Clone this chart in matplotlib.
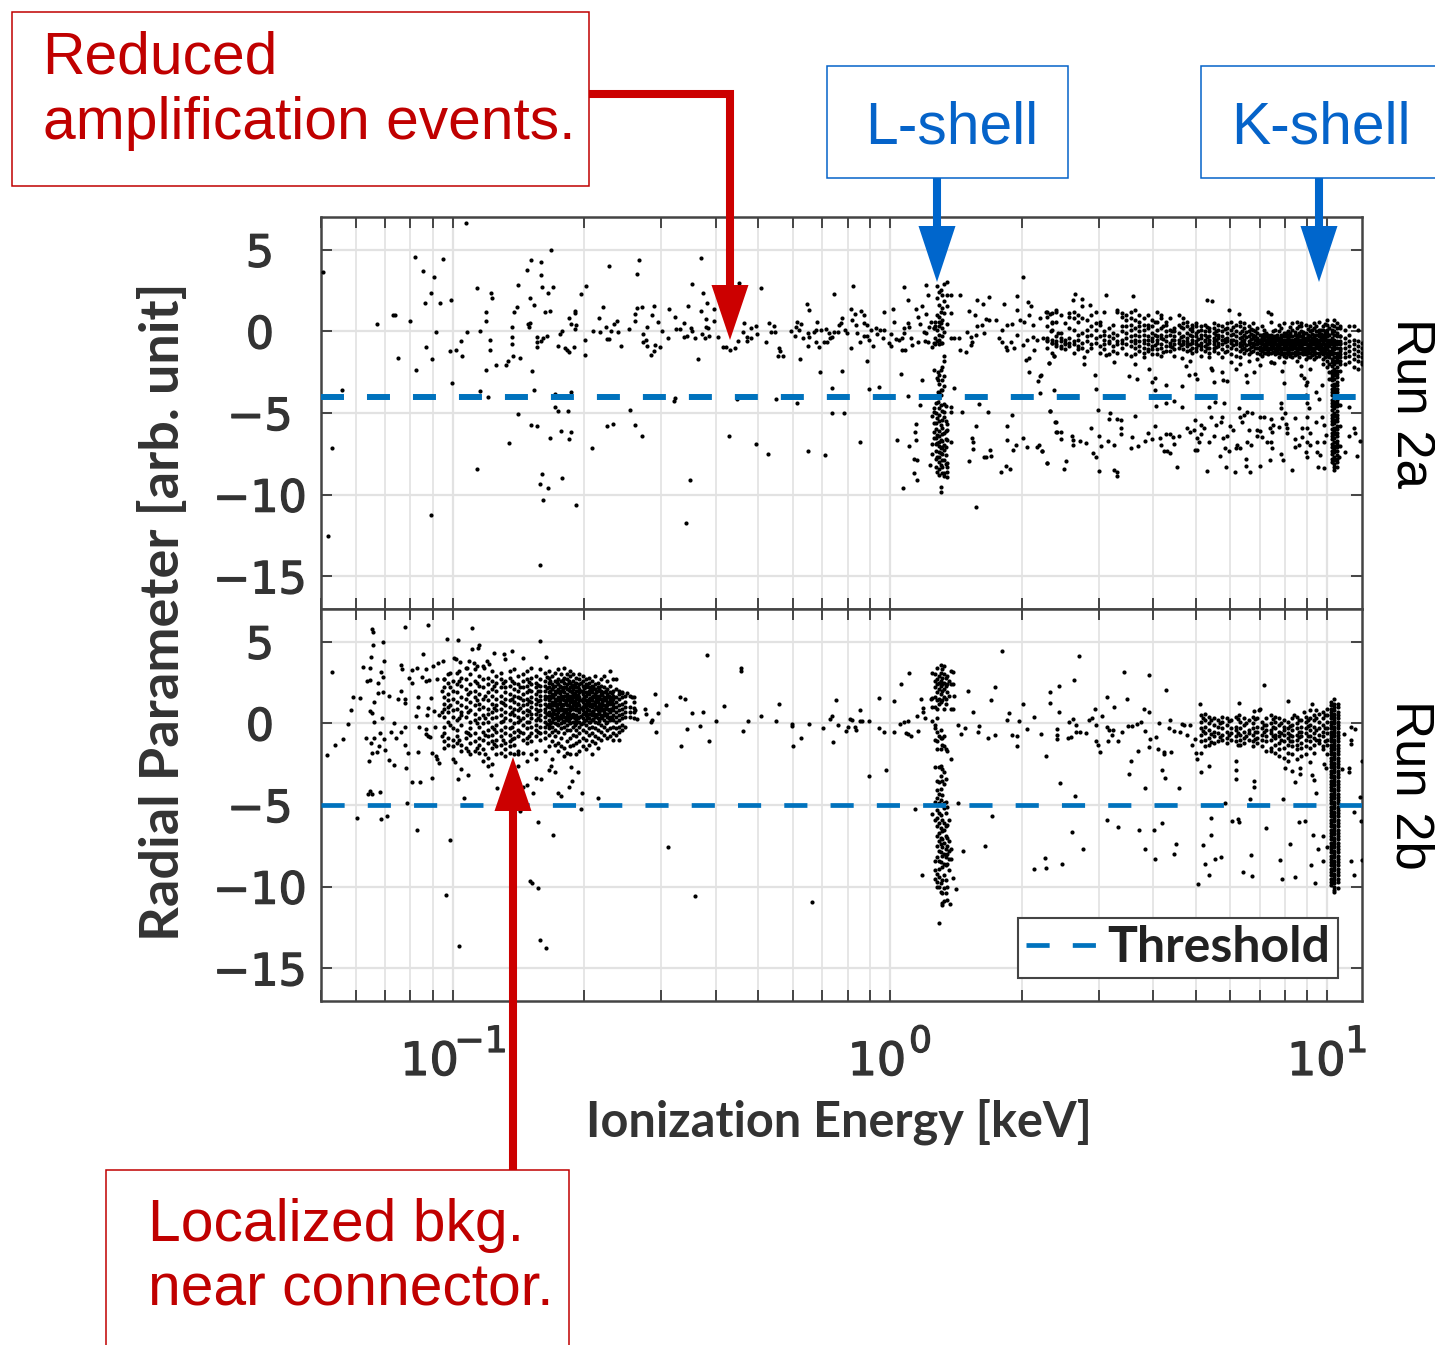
import matplotlib
matplotlib.use("Agg")
import matplotlib.pyplot as plt
import matplotlib.patheffects as pe
import numpy as np
from matplotlib.patches import Polygon, Rectangle

# every point is (log10 of energy in keV, radial parameter)
run2a_low = [(-1.296,3.61),(-.970,6.63),(-.776,4.98),(-1.086,4.53),(-1.022,4.41),(-.820,4.39),(-.797,4.22),(-.432,4.47),(-.574,4.37),(-.643,4.0),
(-.829,3.76),(-1.068,3.67),(-1.042,3.35),(-.797,3.45),(-.578,3.49),(-.944,2.67),(-.851,2.82),(-.694,2.8),(-.795,2.71),(-.771,2.69),
(-.453,2.9),(-1.050,2.35),(-.913,2.37),(-.782,2.37),(-.707,2.29),(-.427,2.37),(-.823,2.06),(-.909,2.06),(-1.003,1.9),(-1.064,1.76),
(-1.028,1.73),(-.814,1.59),(-.854,1.49),(-.656,1.51),(-.578,1.43),(-.566,1.51),(-.540,1.53),(-.463,1.53),(-.418,1.73),(-.505,1.35),
(-.859,1.18),(-.923,1.18),(-.790,1.2),(-.778,1.24),(-.720,1.27),(-.720,1.14),(-.432,1.27),(-.403,1.37),(-1.136,.98),(-1.131,.98),
(-.734,.82),(-.666,.82),(-.583,1.04),(-.544,.98),(-.492,.9),(-.420,.76),(-.923,.65),(-1.097,.63),(-1.172,.45),(-.823,.53),
(-.828,.47),(-.826,.29),(-.864,.27),(-.730,.43),(-.717,.39),(-.721,.14),(-.624,.65),(-.631,.45),(-.650,.29),(-.583,.63),
(-.530,.57),(-.470,.53),(-.403,.61),(-.555,.27),(-.420,.24),(-.456,.18),(-1.039,-.04),(-.967,-.04),(-.938,.04),(-.750,.02),
(-.679,.04),(-.663,-.02),(-.637,.04),(-.622,-.04),(-.596,.16),(-.522,.02),(-.489,.12),(-.480,.14),(-.416,.18),(-.755,-.18),
(-.865,-.33),(-.807,-.35),(-.785,-.29),(-.793,-.43),(-.565,-.14),(-.429,-.16),(-.452,.02),(-.471,-.35),(-.464,-.31),(-.447,-.43),
(-.424,-.43),(-.415,-.27),(-.394,-.37),(-.508,-.43),(-.915,-.51),(-.980,-.57),(-.697,-.53),(-.648,-.49),(-.643,-.45),(-.807,-.65),
(-.797,-.59),(-.559,-.53),(-.564,-.63),(-.865,-.8),(-1.060,-.96),(-.759,-.9),(-.807,-.98),(-.723,-.98),(-.742,-1.04),(-.615,-.92),
(-.555,-.9),(-.526,-.94),(-.538,-.86),(-1.006,-1.2),(-.993,-1.12),(-.914,-1.12),(-.738,-1.14),(-.734,-1.24),(-.539,-1.2),(-.547,-1.45),
(-.697,-1.47),(-.978,-1.51),(-.862,-1.53),(-1.124,-1.63),(-1.048,-1.69),(-.845,-1.63),(-.440,-1.67),(-.874,-1.82),(-.877,-2.06),(-.901,-2.06),
(-1.084,-2.37),(-.924,-2.39),(-.819,-2.45),(-1.002,-3.14),(-1.253,-3.59),(-.937,-3.67),(-.813,-3.59),(-.730,-3.69),(-.919,-4.0),(-.765,-3.84),
(-.491,-4.08),(-.494,-4.29),(-.766,-4.63),(-.758,-4.88),(-.737,-4.86),(-.595,-4.82),(-.851,-5.08),(-.821,-5.73),(-.808,-5.78),(-.646,-5.78),
(-.633,-5.65),(-.583,-5.71),(-.752,-6.12),(-.730,-6.18),(-.566,-6.39),(-.778,-6.55),(-.734,-6.61),(-.871,-6.86),(-1.275,-7.12),(-.682,-7.12),
(-.945,-8.43),(-.796,-8.71),(-.749,-8.96),(-.458,-9.1),(-.800,-9.35),(-.781,-9.57),(-.793,-10.33),(-.718,-10.61),(-1.050,-11.27),(-.467,-11.76),
(-1.286,-12.55),(-.801,-14.33)]

run2a_mid = [(-.383,-.94),(-.376,-.98),(-.366,-1.14),(-.355,-1.0),(-.345,2.94),(-.296,2.63),(-.334,.49),(-.307,.33),(-.318,.18),(-.337,-.06),
(-.305,-.18),(-.326,-.33),(-.318,-.39),(-.347,-.59),(-.326,-.59),(-.284,-.67),(-.276,.49),(-.265,.35),(-.273,-.06),(-.264,-.02),
(-.254,-1.0),(-.251,-1.2),(-.257,-1.51),(-.244,-1.51),(-.206,-1.67),(-.227,.04),(-.213,.55),(-.204,.47),(-.215,.29),(-.208,.08),
(-.218,-.27),(-.200,-.43),(-.187,-.12),(-.185,-.33),(-.174,-.02),(-.170,.08),(-.190,1.67),(-.185,1.29),(-.167,.59),(-.187,-.88),
(-.170,-.63),(-.162,-.98),(-.151,-.67),(-.143,-.63),(-.157,.08),(-.147,.12),(-.139,-.12),(-.128,-.02),(-.132,-.33),(-.119,-.06),
(-.137,-.43),(-.128,2.27),(-.084,2.76),(-.110,.84),(-.116,.39),(-.113,.49),(-.103,.08),(-.099,-.12),(-.090,1.35),(-.081,1.08),
(-.086,.69),(-.078,.39),(-.067,1.27),(-.059,1.0),(-.090,-1.0),(-.076,-.12),(-.068,-.63),(-.059,.49),(-.052,.39),(-.059,-.27),
(-.053,-.27),(-.044,.08),(-.048,-.53),(-.040,-.88),(-.033,.18),(-.029,-.18),(-.023,.08),(-.014,.08),(-.017,-.43),(-.014,1.2),
(.006,1.37),(.008,.59),(-.002,-.73),(.003,-.88),(.003,-.18),(.013,-.47),(.021,-.53),(.031,.18),(.032,-.12),(.040,.49),
(.044,.29),(.028,-.43),(.047,-.39),(.032,2.73),(.041,1.9),(.059,1.35),(.074,1.53),(.064,.86),(.082,1.04),(.086,2.22),
(.082,2.84),(.068,.45),(.078,-.02),(.082,-.12),(.093,.59),(.089,.29),(.101,.18),(.051,-.84),(.063,-.67),(.028,-1.14),
(.034,-1.12),(.079,-.59),(.086,-.63),(.097,-.94),(.101,-.73),
(.147,-.43),(.158,-.43),(.147,-3.45),(.160,2.22),(.181,1.27),(.194,1.0),(.198,1.92),(.213,1.67),(.227,2.08),(.219,.76),
(.227,.69),(.200,.33),(.211,.39),(.215,-.12),(.177,-.02),(.185,-.33),(.196,-.22),(.188,-.63),(.185,-.84),(.160,-1.16),
(.173,-1.27),(.242,.69),(.261,1.67),(.291,2.16),(.290,1.31),(.257,.08),(.268,.39),(.280,.43),(.249,-.39),(.257,-.63),
(.265,-.94),(.268,-1.14),(.276,-.63),(.284,-1.04),(.291,-.22),(.297,.69),(.307,.59),(.318,1.0),(.326,.39),(.343,.8),
(.316,1.78),(.323,1.55),(.305,3.35),(.357,1.2),(.366,1.06),(.371,.59),(.368,.02),(.303,-.84),(.314,-.53),(.326,-.33),
(.337,-.53),(.349,-.43),(.360,-.53),(.371,-.73),(.383,-.12),(.379,1.2),(.329,-1.14),(.310,-1.76),(.318,-1.61),(.375,-1.51),(.364,-1.96),
(.025,-2.59),(.073,-2.98),(.041,-3.96),(.068,-4.53),(.059,-5.69),(.056,-6.18),(.060,-6.63),(.017,-6.65),(.044,-7.04),(.055,-7.82),
(.061,-7.88),(.091,-8.18),(.054,-8.65),(.061,-9.1),(.029,-9.57),(-.261,-4.16),(-.212,-4.41),(-.349,-4.16),(-.133,-3.45),(-.049,-3.51),
(-.026,-3.39),(-.132,-5.0),(-.106,-5.0),(-.069,-6.76),(-.368,-6.41),(-.307,-6.9),(-.280,-7.51),(-.188,-7.33),(-.149,-7.55),(-.161,-2.47),
(-.110,-2.41),(-.052,-1.84),(.165,-4.94),(.204,-4.47),(.224,-4.94),(.196,-5.78),(.188,-6.55),(.190,-6.8),(.189,-7.22),(.181,-7.94),
(.229,-7.27),(.230,-7.63),(.219,-7.71),(.214,-7.71),(.278,-5.14),(.267,-5.78),(.267,-6.67),(.288,-6.96),(.282,-7.27),(.305,-6.51),
(.314,-7.06),(.337,-7.1),(.341,-6.96),(.347,-7.33),(.359,-8.04),(.265,-8.22),(.275,-8.43),(.253,-8.61),(.197,-10.76),(.317,-2.51),
(.338,-3.06),(.346,-2.69),(.343,-3.8),(.375,-3.59),(.366,-4.88),(.379,-5.57),(.381,-6.18)]

run2a_lshell = [
    (.095, [-5.2,-6.9,-7.5]),
    (.101, [.18,-4.67,-4.92,-5.63,-6.14,-6.55,-2.35]),
    (.104, [.6,.3,-.4,-.8]),
    (.105, [-4.4,-5.0,-5.6,-6.0,-6.5,-6.9,-7.3,-7.8,-8.3]),
    (.108, [2.78,2.02,1.0,-.59,-2.88,-6.35,-6.86,-7.67,-8.59,-5.33,.08]),
    (.109, [-2.5,-3.0,-3.7,-4.3]),
    (.112, [2.4,1.6,.9,.6,.3,-.2,-.5,-.8,-4.7,-5.1,-5.5,-6.1,-6.4,-6.8,-7.0,-7.4,-7.7,-8.0,-8.4,-8.8]),
    (.113, [-2.7,-3.2,-3.8,-4.1]),
    (.116, [2.53,1.2,.49,-.69,-2.39,-3.59,-3.9,-4.51,-5.73,-7.16,-8.18,-6.65,-7.47,-9.51,-9.82]),
    (.118, [-3.0,-3.6,-2.2]),
    (.120, [2.2,1.4,.7,.2,-.3,-.7,-4.9,-5.4,-5.9,-6.3,-6.7,-7.1,-7.5,-7.9,-8.3,-8.7]),
    (.124, [2.9,1.86,1.1,-.02,-1.49,-1.8,-2.73,-3.33,-4.45,-4.92,-5.22,-6.24,-6.96,-7.27,-7.88,-8.69,-8.86]),
    (.127, [-4.6,-5.5,-6.1,-6.6,-7.1,-7.6,-8.1]),
    (.131, [3.0,2.22,1.57,.47,-5.69,-6.04,-6.65,-8.08,-8.29,-8.59,-8.9]),
    (.139, [2.22,1.1,-.43,-4.61,-4.92,-6.8]),
]

run2a_high = [(.365,-4.88),(.378,-5.53),(.380,-6.16),(.391,-6.14),(.392,-6.61),(.415,-6.39),(.418,-6.65),(.418,-6.96),(.434,-6.71),(.447,-6.84),
(.460,-5.94),(.477,-6.39),(.476,-4.82),(.470,-3.53),(.468,-2.65),(.504,-4.98),(.500,-5.39),(.519,-5.37),(.527,-5.41),(.527,-5.94),
(.529,-6.29),(.499,-6.69),(.482,-7.04),(.511,-6.98),(.464,-7.43),(.470,-7.69),(.478,-8.57),(.513,-8.49),(.518,-8.63),(.519,-8.84),
(.358,-8.04),(.397,-8.43),(.403,-7.92),(.348,-7.33),(.554,-6.49),(.551,-7.12),(.567,-7.02),(.560,-5.16),(.546,-2.71),(.565,-2.92),
(.598,-3.08),(.607,-2.84),(.607,-3.59),(.632,-3.29),(.632,-4.39),(.649,-4.24),(.609,-4.59),(.668,-4.61),(.668,-3.33),(.605,-5.78),
(.589,-6.2),(.582,-6.71),(.598,-6.59),(.617,-6.55),(.620,-6.96),(.632,-6.29),(.640,-6.29),(.647,-6.45),(.660,-6.39),(.650,-6.88),
(.626,-7.31),(.634,-7.33),(.641,-7.47),(.656,-8.29),(.679,-5.94),(.685,-6.18),(.697,-5.43),(.696,-6.04),(.702,-6.51),(.711,-5.73),
(.719,-5.94),(.710,-6.29),(.706,-6.76),(.729,-6.76),(.697,-7.24),(.702,-7.29),(.725,-8.57),(.734,-5.22),(.746,-5.73),(.729,-4.61),
(.744,-4.31),(.763,-4.41),(.759,-5.22),(.756,-5.57),(.740,-6.43),(.762,-6.55),(.771,-6.39),(.754,-7.63),(.768,-8.33),(.788,-8.63),
(.778,-5.82),(.785,-6.04),(.797,-4.67),(.809,-5.12),(.817,-4.92),(.805,-5.53),(.801,-5.22),(.828,-5.02),(.820,-6.04),(.839,-6.04),
(.847,-6.1),(.839,-6.39),(.851,-6.45),(.846,-5.22),(.855,-5.22),(.871,-5.37),(.875,-5.73),(.868,-5.94),(.874,-6.14),(.861,-6.76),
(.870,-6.76),(.874,-7.16),(.893,-7.53),(.898,-7.88),(.868,-7.9),(.846,-8.22),(.824,-8.63),(.815,-7.82),(.815,-8.22),(.817,-6.76),
(.826,-6.96),(.794,-6.96),(.801,-7.16),(.790,-7.16),(.775,-7.33),(.765,-7.12),(.893,-4.41),(.893,-4.71),(.904,-5.02),(.897,-5.33),
(.906,-5.69),(.889,-5.84),(.908,-5.94),(.908,-6.24),(.927,-5.33),(.927,-6.59),(.925,-7.06),(.935,-6.96),(.919,-8.49),(.954,-5.22),
(.950,-3.9),(.954,-4.41),(.958,-4.71),(.942,-5.94),(.954,-5.94),(.961,-6.24),(.942,-6.45),(.954,-6.76),(.961,-6.96),(.950,-7.37),
(.954,-7.67),(.977,-6.76),(.973,-5.57),(.988,-5.22),(.992,-5.73),(.996,-6.35),(.992,-6.76),(.977,-7.37),(.983,-7.57),(.978,-8.33),
(.992,-8.39),(.946,-2.88),(.954,-3.08),(.939,-2.67),(.950,-3.29),(.973,-3.69),(.988,-3.29),(.980,-4.14),(.900,-3.18),(.897,-2.41),
(.878,-1.96),(.847,-2.06),(.870,-1.86),(.832,-2.47),(.815,-2.67),(.817,-3.08),(.790,-2.31),(.762,-2.98),(.771,-3.04),(.740,-3.12),
(.733,-2.22),(.737,-2.37),(.759,-2.47),(.702,-2.94),(.698,-2.63),(.683,-2.67),(.676,-2.12),(.685,-1.82),(.668,-1.65),(.561,-2.02),
(.592,-2.29),(.512,-1.86),(.493,-1.45),(.443,-2.02),(.443,-1.55),(.374,-1.51),(.363,-1.96),(.344,-2.71),(1.049,-4.65),(1.060,-5.94),
(1.049,-6.41),(1.064,-6.24),(1.074,-6.71),(1.068,-7.63),(1.041,-7.41),(1.034,-2.92),(1.026,-7.67),
(.423,2.31),(.418,1.92),(.439,1.98),(.439,1.53),(.458,1.61),(.494,2.2),(.555,2.14),(.725,1.92),(.737,1.84),(.775,1.33),(.799,1.06),(.865,1.16),(.870,1.04)]

run2a_band = [
    (.36, [1.2,.9,.3,-.4,-.6,-1.0]), (.37, [1.1,.5,.1,-.5,-.7,-1.3]), (.38, [1.3,.6,-.3,-.6,-.8,-.9]), (.39, [1.0,-.1,-.4,-.6,-.9,-1.0]),
    (.40, [.5,-.5,-.7,-.8,-1.1]), (.41, [1.1,.9,.2,-.4,-.7,-.9]), (.42, [1.2,.8,.1,-.6,-.8,-1.3]), (.43, [1.0,.6,-.2,-.5,-.9,-1.1]),
    (.44, [.8,-.1,-.7,-1.0]), (.45, [.7,.1,-.3,-.6,-1.2]), (.46, [1.0,.3,-.2,-.8,-1.0]), (.47, [1.2,.5,.1,-.4,-.7]),
    (.48, [.6,.4,-.3,-.9,-1.3]), (.49, [1.2,.0,-.2,-.5,-.8,-1.1]), (.50, [.2,-.3,-.6,-.7,-1.4]), (.51, [.4,-.1,-.4,-.9,-1.2]),
    (.52, [1.3,1.2,-.2,-.6,-.8,-1.3]), (.53, [1.1,.9,.3,.0,-.5,-.7,-1.0]), (.54, [1.0,.7,.3,-.1,-.4,-.8,-1.4]), (.55, [1.2,.8,.4,.1,-.3,-.6,-.9,-1.5]),
    (.56, [1.3,.7,.2,-.2,-.5,-.7,-1.0,-1.4]), (.57, [1.0,.6,.3,.0,-.3,-.6,-.9,-1.2]), (.58, [.8,.4,.1,-.2,-.5,-.7,-1.0,-1.3,-1.6]), (.59, [1.0,.4,.2,-.3,-.5,-.8,-1.1,-1.2]),
    (.60, [.7,.3,-.1,-.4,-.6,-.9,-1.1,-1.4]), (.61, [1.2,.6,.1,-.3,-.5,-.7,-1.1,-1.4]), (.62, [1.0,.8,.2,-.2,-.4,-.8,-1.0,-1.5]), (.63, [.6,.4,.0,-.3,-.6,-.9,-1.2]),
    (.64, [.8,.1,-.2,-.7,-.9,-1.2]), (.65, [.2,.0,-.3,-.5,-.8,-1.1,-1.5]), (.66, [1.0,.4,-.1,-.5,-.7,-1.0]), (.67, [.8,.5,.2,-.3,-.6,-.8,-1.1]),
    (.68, [.6,.3,-.1,-.4,-.6,-.7,-.9,-1.2]), (.69, [.4,.2,.0,-.3,-.5,-.7,-1.0,-1.3]), (.70, [.5,.3,-.1,-.3,-.6,-.8,-1.0,-1.2]), (.71, [.3,.1,-.2,-.4,-.7,-.9,-1.1,-1.5]),
    (.72, [.4,.0,-.2,-.5,-.6,-.9,-1.2]), (.73, [.2,.0,-.3,-.5,-.7,-1.0,-1.3,-1.6]), (.74, [.5,.2,-.1,-.4,-.6,-.8,-1.0,-1.2]), (.75, [.4,.1,-.2,-.4,-.7,-.9,-1.3]),
    (.76, [.3,.0,-.3,-.5,-.8,-1.1,-1.6]), (.77, [.5,.2,-.1,-.4,-.6,-.9,-1.2]), (.78, [.6,.1,-.2,-.5,-.7,-1.0,-1.4,-1.9]), (.79, [.4,.0,-.3,-.6,-.8,-1.1,-1.5]),
    (.80, [.6,.3,-.1,-.4,-.7,-.9,-1.2,-1.6,-2.0]), (.81, [.5,.2,-.2,-.5,-.7,-1.0,-1.3]), (.82, [.3,.0,-.3,-.6,-.8,-1.1,-1.4,-1.8]), (.83, [.5,.1,-.2,-.4,-.7,-.9,-1.2]),
    (.84, [.2,-.1,-.4,-.6,-.8,-1.0,-1.3,-1.7]), (.85, [.3,-.2,-.4,-.6,-.8,-1.0,-1.2,-1.5]), (.86, [-.1,-.3,-.5,-.7,-.9,-1.1,-1.3]), (.87, [.6,-.2,-.4,-.5,-.7,-.9,-1.1,-1.3,-1.9]),
    (.88, [.1,-.3,-.4,-.6,-.8,-1.0,-1.2,-1.4]), (.89, [.4,.0,-.4,-.5,-.7,-.9,-1.1,-1.3,-1.6]), (.90, [.5,-.1,-.3,-.5,-.7,-.9,-1.1,-1.3,-1.5,-1.9]), (.91, [.0,-.2,-.4,-.6,-.8,-1.0,-1.2,-1.4]),
    (.92, [.5,.1,-.3,-.5,-.7,-.9,-1.1,-1.3,-1.6]), (.93, [.6,.2,-.2,-.4,-.6,-.8,-1.0,-1.2,-1.4,-1.8]), (.94, [.5,.3,.0,-.3,-.5,-.7,-.9,-1.1,-1.3,-2.1]), (.95, [.4,-.1,-.4,-.6,-.8,-1.0,-1.2,-1.4,-1.7]),
    (.96, [.3,.0,-.3,-.5,-.7,-.9,-1.1,-1.3,-1.6,-2.3]), (.97, [.5,.2,-.2,-.4,-.6,-.8,-1.0,-1.2,-1.4,-1.7]), (.98, [.6,.1,-.1,-.3,-.5,-.7,-.9,-1.1,-1.3,-1.5]), (.99, [.3,.1,-.2,-.4,-.6,-.8,-1.0,-1.2,-1.4,-1.7,-2.0]),
    (1.00, [.7,.4,.1,-.1,-.3,-.5,-.7,-.9,-1.1,-1.3,-1.5,-1.8,-2.2]),
    (1.004, [.2,-.2,-.5,-.7,-.9,-1.2,-1.4,-1.6,-2.0,-2.5,-2.9]),
    (1.010, [.4,.1,-.1,-.4,-.6,-.8,-1.0,-1.2,-1.4,-1.7,-1.9,-2.1,-2.4,-2.6,-2.8,-3.0,-3.3,-3.5,-3.7,-3.9,-4.2,-4.4,-4.6,-4.8,-5.1,-5.3,-5.5,-5.7,-6.0,-6.2,-6.4,-6.6,-6.9,-7.1,-7.3,-7.5,-7.8,-8.0]),
    (1.016, [.7,.3,.0,-.2,-.5,-.7,-.9,-1.1,-1.3,-1.6,-1.8,-2.0,-2.3,-2.5,-2.7,-2.9,-3.2,-3.4,-3.6,-3.8,-4.1,-4.3,-4.5,-4.7,-5.0,-5.2,-5.4,-5.6,-5.9,-6.1,-6.3,-6.5,-6.8,-7.0,-7.2,-7.4,-7.7,-7.9,-8.1,-8.3,-8.5]),
    (1.022, [.5,.2,-.1,-.3,-.6,-.8,-1.0,-1.3,-1.5,-1.7,-1.9,-2.2,-2.4,-2.6,-2.8,-3.1,-3.3,-3.5,-3.7,-4.0,-4.2,-4.4,-4.6,-4.9,-5.1,-5.3,-5.5,-5.8,-6.0,-6.2,-6.4,-6.7,-6.9,-7.1,-7.3,-7.6,-7.8,-8.0,-8.3]),
    (1.028, [.3,-.3,-.7,-1.0,-1.2,-1.6,-2.0,-2.4,-4.5,-5.8,-7.0]),
    (1.03, [.2,-.3,-.6,-.8,-1.1,-1.4,-1.8]), (1.04, [.1,-.4,-.7,-1.0,-1.3,-1.6,-2.0]), (1.05, [.3,-.2,-.6,-.9,-1.2,-1.5,-1.9]),
    (1.06, [.3,-.5,-.8,-1.1,-1.4,-1.7,-2.2]), (1.07, [.1,-.6,-.9,-1.2,-1.5,-1.8,-2.3]), (1.08, [-.7,-1.0,-1.3,-1.6,-1.9,-2.0]),
]

run2a_band_fill = [
    (.605, [.55,-.25,-.85]), (.625, [.35,-.45,-1.25]), (.645, [.05,-.55,-.95]), (.665, [.25,-.35,-.85]), (.685, [.15,-.25,-.75,-1.15]),
    (.705, [.05,-.45,-.85]), (.725, [.25,-.35,-.75,-1.05]), (.745, [.05,-.25,-.55,-.95]), (.765, [.15,-.45,-.65,-1.25]), (.785, [.25,-.15,-.55,-.85]),
    (.805, [.05,-.35,-.6,-.85,-1.1]), (.815, [-.05,-.35,-.85,-1.15]), (.825, [.15,-.15,-.45,-.7,-.95,-1.25]), (.835, [.05,-.3,-.55,-.8,-1.05]),
    (.845, [-.25,-.5,-.7,-.95,-1.15,-1.4]), (.855, [.1,-.15,-.35,-.55,-.75,-.95,-1.1,-1.3]), (.865, [-.2,-.4,-.6,-.8,-1.0,-1.2,-1.4]),
    (.875, [.0,-.3,-.45,-.65,-.85,-1.05,-1.25]), (.885, [-.2,-.35,-.55,-.75,-.95,-1.15,-1.35]), (.895, [.2,-.2,-.4,-.6,-.8,-1.0,-1.2,-1.4]),
    (.905, [-.1,-.3,-.5,-.7,-.9,-1.1,-1.3,-1.55]), (.915, [.25,-.1,-.3,-.5,-.7,-.9,-1.1,-1.3,-1.5]), (.925, [-.05,-.25,-.45,-.65,-.85,-1.05,-1.25,-1.45]),
    (.935, [.3,-.1,-.3,-.5,-.7,-.9,-1.1,-1.3,-1.55]), (.945, [-.05,-.2,-.4,-.6,-.8,-1.0,-1.2,-1.4]), (.955, [.15,-.2,-.35,-.55,-.75,-.95,-1.15,-1.35,-1.6]),
    (.965, [.1,-.15,-.4,-.6,-.8,-1.0,-1.2,-1.45]), (.975, [.3,0,-.25,-.45,-.65,-.85,-1.05,-1.3,-1.6]), (.985, [.1,-.15,-.35,-.55,-.75,-.95,-1.15,-1.35]),
    (.995, [.45,.05,-.15,-.35,-.55,-.75,-.95,-1.15,-1.35,-1.6]),
]

run2b_low = [(-1.275,3.12),(-1.184,5.76),(-1.182,5.59),(-1.109,5.92),(-1.057,6.0),(-.956,5.84),(-1.182,4.8),(-1.159,4.98),(-1.014,5.14),(-.987,5.12),
(-.801,5.02),(-1.204,3.43),(-1.189,3.37),(-1.187,4.04),(-1.157,3.82),(-1.118,3.57),(-1.115,3.35),(-1.164,3.12),(-1.159,2.82),(-1.195,2.61),
(-1.189,2.67),(-1.170,2.49),(-1.171,1.88),(-1.159,1.94),(-1.118,1.98),(-1.227,1.63),(-1.211,1.53),(-1.146,1.67),(-1.180,1.33),(-1.124,1.51),
(-1.110,1.47),(-1.109,1.22),(-1.079,1.59),(-1.050,1.57),(-1.232,.8),(-1.188,.76),(-1.184,.61),(-1.161,.35),(-1.180,.1),(-1.083,.47),
(-1.079,1.02),(-1.057,.96),(-1.058,.53),(-1.043,.76),(-1.031,.49),(-1.240,-.06),(-1.133,0),(-1.109,-.22),(-1.077,-.2),(-1.041,-.24),
(-1.251,-.98),(-1.268,-1.33),(-1.288,-1.92),(-1.199,-.92),(-1.180,-.92),(-1.166,-.57),(-1.140,-.53),(-1.118,-.53),(-1.130,-.9),(-1.156,-.98),
(-1.186,-1.22),(-1.169,-1.37),(-1.155,-1.65),(-1.184,-1.8),(-1.172,-1.78),(-1.109,-1.33),(-1.102,-1.84),(-1.079,-1.76),(-1.191,-2.31),(-1.146,-2.22),
(-1.135,-2.53),(-1.107,-2.71),(-1.060,-.37),(-1.062,-.67),(-1.057,-.78),(-1.052,-.82),(-1.068,4.24),(-1.094,3.29),(-1.082,3.41),(-1.062,3.35),
(-1.044,3.53),(-1.034,3.71),(-1.021,3.82),(-.997,4.02),(-.993,3.92),(-.983,3.76),(-.956,4.53),(-.940,4.78),(-.941,4.63),(-.906,4.29),
(-.882,4.27),(-.865,4.43),(-.881,3.92),(-.839,4.0),(-.787,4.04),(-1.100,2.8),(-1.092,2.49),(-1.071,2.84),(-1.060,2.59),(-1.054,2.65),
(-1.035,2.73),(-1.020,2.69),(-1.005,3.1),(-.986,3.2),(-.967,3.41),(-.951,3.71),(-.963,3.82),(-.944,3.51),(-.921,3.82),(-.917,3.61),
(-.929,3.41),(-1.048,-3.33),(-1.092,-3.57),(-1.074,-3.57),(-.988,-3.39),(-.964,-3.16),(-.982,-2.78),(-.995,-2.37),(-1.031,-2.45),(-1.035,-2.2),
(-1.039,-2.0),(-1.047,-1.84),(-1.188,-4.14),(-1.193,-4.35),(-1.184,-4.35),(-1.165,-4.18),(-1.105,-4.88),(-.975,-4.55),(-.913,-3.16),(-.898,-3.94),
(-.829,-3.78),(-.816,-4.24),(-.810,-3.33),(-.799,-3.43),(-.780,-2.86),(-.776,-2.61),(-.765,-2.98),(-.759,-4.29),(-.753,-4.45),(-.734,-3.9),
(-.728,-3.55),(-.714,-2.98),(-.730,-2.65),(-.705,-4.24),(-.667,-4.57),(-.707,-5.22),(-.845,-5.37),(-1.219,-5.82),(-1.164,-5.84),(-1.151,-5.67),
(-1.082,-6.51),(-1.007,-7.12),(-.806,-6.04),(-.771,-6.84),(-.508,-7.59),(-.823,-9.63),(-.818,-9.76),(-.804,-10.06),(-1.016,-10.49),(-.445,-10.55),
(-.986,-13.65),(-.801,-13.27),(-.786,-13.73),(-.537,1.78),(-.513,1.14),(-.481,1.63),(-.469,1.51),(-.418,4.18),(-.452,.63),(-.427,.69),
(-.397,.16),(-.435,-.14),(-.464,-.35),(-.477,-1.39),(-.415,-1.1),(-.535,-.53),(-.547,.08),(-.544,.18),(-.531,.65),(-.561,.86),
(-.559,.55),(-.578,.24),(-.586,.96),(-.582,.82),(-.589,1.61),(-.601,1.88),(-.612,1.88),(-.620,1.98)]

run2b_blob = [
    (-1.02, [2.7,2.2,1.6,1.2,.9,.4,-.2,-.6,-1.1,-1.5]), (-1.01, [3.0,2.5,1.8,1.4,1.0,.7,.1,-.9,-1.3]), (-1.00, [2.6,2.0,1.5,.8,.4,-.3,-1.0,-1.4,-2.2]),
    (-.99, [3.1,2.4,1.9,1.3,.9,.2,-.4,-.8,-1.2]), (-.98, [2.8,2.3,1.6,1.1,.7,.5,-.1,-1.3,-1.7]), (-.97, [3.4,2.7,2.1,1.5,1.0,.4,-.5,-.9,-1.5]),
    (-.96, [3.0,2.4,1.9,1.3,.8,.1,-.3,-.7,-1.2,-1.9]), (-.95, [3.3,2.6,2.0,1.6,1.1,.6,.2,-.6,-1.1,-1.7]), (-.94, [2.9,2.3,1.8,1.2,.9,.3,-.2,-.9,-1.3,-1.8]),
    (-.93, [3.5,2.7,2.2,1.5,1.0,.5,.0,-.5,-1.0,-1.6,-2.3]), (-.92, [2.8,2.4,1.9,1.4,.9,.6,.1,-.4,-.8,-1.2,-2.1,-2.6]), (-.91, [3.2,2.6,2.1,1.7,1.2,.7,.3,-.2,-.7,-1.1,-1.5,-2.5]),
    (-.90, [2.9,2.5,2.0,1.5,1.1,.8,.4,-.1,-.5,-1.0,-1.4,-1.9]), (-.89, [3.1,2.7,2.2,1.7,1.3,.9,.5,.1,-.4,-.8,-1.3,-1.8]), (-.88, [2.6,2.2,1.9,1.5,1.1,.7,.3,-.2,-.6,-1.2,-1.6,-2.0]),
    (-.87, [3.2,2.8,2.3,1.8,1.4,1.0,.6,.2,-.3,-.7,-1.1,-1.4,-1.8]), (-.86, [3.3,2.5,2.1,1.7,1.3,.9,.5,.0,-.5,-.9,-1.3,-1.9]), (-.85, [2.9,2.4,2.0,1.6,1.2,.8,.4,.1,-.4,-.8,-1.7,-1.9,-2.6]),
    (-.84, [3.0,2.6,2.2,1.8,1.4,1.1,.7,.3,-.1,-.6,-1.0,-1.8,-3.9]), (-.83, [3.2,2.7,2.3,1.9,1.5,1.2,.8,.5,.1,-.3,-.9,-1.2,-2.3]), (-.82, [3.4,2.8,2.4,2.0,1.6,1.3,1.0,.6,.3,-.2,-.6,-1.1,-1.9]),
    (-.81, [2.9,2.5,2.2,1.8,1.5,1.2,.9,.6,.2,-.1,-.4,-.8,-1.7,-2.2]), (-.80, [3.3,2.7,2.3,2.0,1.7,1.4,1.1,.8,.5,.2,-.2,-.6,-1.0]), (-.79, [3.1,2.6,2.3,2.0,1.7,1.5,1.2,.9,.7,.4,.1,-.2,-.5,-.9,-1.7]),
    (-.78, [3.2,2.8,2.5,2.2,1.9,1.7,1.4,1.2,1.0,.7,.5,.2,-.1,-.3,-.7,-1.4]), (-.773, [2.9,2.4,2.1,1.8,1.6,1.3,1.1,.9,.6,.4,.1,-.2,-.5,-1.1,-2.2]), (-.766, [3.1,2.6,2.3,2.0,1.8,1.5,1.3,1.1,.8,.6,.3,.0,-.4,-.8,-1.3]),
    (-.759, [3.3,2.7,2.4,2.1,1.9,1.6,1.4,1.2,.9,.7,.4,.2,-.1,-.5,-1.2,-1.7]), (-.752, [3.0,2.6,2.2,2.0,1.7,1.5,1.2,1.0,.8,.5,.3,.0,-.3,-.9,-1.4]), (-.745, [3.4,2.8,2.5,2.2,1.9,1.7,1.4,1.2,.9,.7,.4,.1,-.2,-.6,-1.5,-2.0]),
    (-.738, [3.0,2.7,2.4,2.1,1.8,1.6,1.4,1.1,.9,.6,.4,.2,-.1,-.4,-1.1,-1.8]), (-.731, [3.2,2.9,2.5,2.2,2.0,1.7,1.5,1.3,1.0,.8,.5,.3,.0,-.4,-.9,-1.4,-1.9]), (-.724, [3.0,2.6,2.3,2.1,1.8,1.6,1.3,1.1,.9,.6,.4,.1,-.2,-.7,-1.3]),
    (-.717, [2.8,2.5,2.2,2.0,1.7,1.5,1.2,1.0,.8,.5,.2,.0,-.4,-.8,-1.2,-1.9]), (-.71, [3.0,2.7,2.4,2.1,1.9,1.6,1.4,1.1,.9,.7,.4,.1,-.2,-.6,-1.1,-1.7]), (-.703, [2.9,2.6,2.3,2.0,1.8,1.5,1.3,1.0,.8,.6,.3,.0,-.4,-.9,-1.4]),
    (-.696, [2.7,2.4,2.2,1.9,1.7,1.4,1.2,1.0,.7,.5,.2,-.1,-.5,-1.0,-1.6]), (-.689, [2.8,2.5,2.2,2.0,1.8,1.5,1.3,1.1,.8,.6,.3,.1,-.3,-.7,-1.3]), (-.682, [2.6,2.3,2.1,1.9,1.6,1.4,1.2,1.0,.7,.5,.2,-.2,-.6,-1.1,-1.9]),
    (-.675, [2.9,2.4,2.1,1.8,1.6,1.3,1.1,.9,.6,.4,.1,-.3,-.8,-1.2]), (-.668, [2.5,2.2,2.0,1.7,1.5,1.3,1.0,.8,.6,.3,.0,-.4,-.9,-1.5]), (-.661, [2.7,2.3,2.0,1.8,1.5,1.2,1.0,.8,.5,.3,-.1,-.5,-1.0]),
    (-.654, [2.9,2.2,1.9,1.6,1.4,1.1,.9,.7,.5,.2,-.2,-.7]), (-.647, [2.6,2.1,1.8,1.6,1.3,1.1,.9,.6,.4,.1,-.4,-.9]), (-.64, [3.2,2.3,1.9,1.6,1.4,1.2,.9,.7,.4,.2,-.3,-.8]),
    (-.633, [2.7,2.0,1.7,1.5,1.2,1.0,.8,.5,.2,-.2,-.6,-1.0]), (-.626, [2.7,2.1,1.6,1.3,1.0,.7,.4,.1,-.3,-.7]), (-.619, [1.8,1.5,1.1,.8,.5,.2,-.2,-.5,-1.0]),
    (-.612, [1.9,1.6,1.2,.9,.6,.3,-.1,-.4]), (-.605, [1.7,1.3,1.0,.7,.4,-.2]), (-.595, [1.7,1.0,.7,.4]), (-.585, [1.6,1.3,.7,.3]),
]

run2b_blob_fill = [
    (-1.025, [2.0,.7,-.8]), (-1.005, [2.2,1.1,-.1]), (-.985, [2.6,.3,-1.0]), (-.965, [1.8,.7,-.6,-1.7]), (-.945, [2.5,1.4,.0,-1.5]), (-.925, [1.7,.3,-.7,-1.9]),
    (-.905, [2.3,.95,-.35,-1.25]), (-.885, [2.45,1.25,.15,-1.0]), (-.865, [2.6,1.5,.7,-.2,-.95]), (-.845, [2.2,1.55,.95,.2,-.55]), (-.825, [2.55,2.05,1.35,.75,.1,-.75]),
    (-.805, [2.35,1.95,1.35,.75,.35,-.55]), (-.785, [2.85,2.15,1.6,1.05,.55,-.05]), (-.7765, [2.6,2.0,1.55,1.05,.55,.05]), (-.7695, [2.25,1.65,1.15,.75,.25]),
    (-.7625, [2.55,1.95,1.45,1.0,.5,-.05]), (-.7555, [2.3,1.85,1.35,.85,.35]), (-.7485, [2.65,2.1,1.6,1.1,.6,.15]), (-.7415, [2.25,1.7,1.25,.75,.25]),
    (-.7345, [2.6,2.05,1.55,1.15,.65,.15]), (-.7275, [2.35,1.9,1.45,1.0,.45]), (-.7205, [2.4,1.85,1.35,.9,.35,-.1]), (-.7135, [2.25,1.75,1.25,.8,.3]),
    (-.7065, [2.45,1.95,1.4,.95,.45,-.05]), (-.6995, [2.15,1.6,1.15,.65,.15]), (-.6925, [2.3,1.85,1.35,.9,.4]), (-.6855, [2.05,1.55,1.05,.6,.1]),
    (-.6785, [2.2,1.7,1.2,.75,.25]), (-.6715, [1.9,1.4,.95,.45]), (-.6645, [2.1,1.6,1.1,.7,.15]), (-.6575, [1.75,1.3,.85,.4]),
    (-.6505, [1.95,1.5,1.0,.55,.05]), (-.6435, [1.7,1.25,.8,.3]), (-.6365, [1.85,1.35,.9,.35]),
]

run2b_mid = [(-.379,1.06),(-.340,3.37),(-.340,3.2),(-.337,-.45),(-.324,.12),(-.296,.47),(-.260,.16),(-.254,1.18),(-.225,-.02),(-.223,-.18),
(-.222,-1.39),(-.203,-.92),(-.185,-.02),(-.153,-.29),(-.137,.24),(-.133,.43),(-.124,1.41),(-.130,-1.14),(-.118,-.1),(-.100,-.45),
(-.096,-.2),(-.091,.27),(-.087,.18),(-.080,-.2),(-.078,-.41),(-.068,.8),(-.068,.16),(-.063,.16),(-.048,.16),(-.025,1.57),
(-.025,-.27),(-.014,-.51),(.009,1.37),(.009,-.53),(-.048,-3.24),(-.010,-2.86),(.025,2.41),(.022,-.04),(.032,.1),(.040,.16),
(.036,-.61),(.042,-.67),(.047,-.8),(.044,3.1),(.063,-.45),(.061,.47),(.070,1.47),(.076,.96),(.076,.69),(.081,.33),
(.096,3.06),(.095,1.57),(.093,1.47),(.096,1.0),(.096,.16),(.144,3.12),(.143,2.43),(.147,1.65),(.143,.88),(.145,-9.45),
(.150,-10.16),(.137,-11.08),(.120,-11.14),(.073,-9.31),(.166,-7.84),(.156,-4.86),(.056,-5.27),(.097,-5.53),(.179,1.96),(.189,.71),
(.155,-.12),(.163,-.63),(.172,-.27),(.204,-.14),(.201,-.55),(.224,-.92),(.241,-.71),(.230,1.41),(.239,2.24),(.256,4.43),
(.268,.2),(.271,.65),(.294,.14),(.278,-.69),(.291,-.78),(.291,-1.39),(.305,1.2),(.330,.41),(.313,-.37),(.346,-.67),
(.357,-2.0),(.366,1.94),(.365,1.24),(.381,-.37),(.381,-.69),(.381,-.98),(.387,2.29),(.387,.71),(.389,-3.67),(.233,-5.65),
(.217,-7.51),(.355,-8.22),(.330,-8.94),(.357,-8.86),(-.179,-10.92)]

run2b_lshell = [
    (.102, [3.0,2.6,2.2,1.6,1.0,-.1,-.3,-1.0,-2.7,-4.8,-5.9,-8.4,-9.0,-9.5]),
    (.108, [3.4,2.7,2.4,1.9,1.4,.9,.3,-.5,-1.1,-1.6,-3.5,-4.1,-4.6,-5.3,-5.8,-6.3,-6.9,-7.5,-8.2,-9.2,-9.7,-10.0]),
    (.112, [2.9,2.5,2.1,1.5,1.2,-.8,-2.7,-3.6,-4.3,-4.9,-5.5,-6.1,-6.7,-7.2,-7.8,-8.4,-8.9,-9.4,-10.0,-12.2]),
    (.116, [3.6,3.1,2.6,2.3,1.8,1.3,-.4,-.9,-1.6,-2.6,-3.2,-4.0,-4.7,-5.6,-6.4,-7.0,-7.4,-7.9,-8.5,-9.8,-10.3]),
    (.120, [3.3,2.8,2.4,2.0,1.4,-.9,-1.3,-2.8,-3.5,-4.4,-5.0,-5.9,-6.6,-7.1,-7.6,-8.1,-8.8,-9.6,-11.0,-10.4]),
    (.124, [3.5,3.0,2.5,2.1,1.6,.9,-.8,-1.4,-3.0,-3.7,-4.9,-5.2,-6.1,-6.5,-7.3,-8.0,-8.6,-9.3,-10.1,-10.9]),
    (.128, [2.8,2.3,1.5,1.2,-1.6,-3.4,-4.8,-5.5,-6.3,-6.9,-7.7,-8.2,-8.7,-9.6,-10.4]),
    (.131, [2.9,2.4,1.9,-1.7,-5.1,-6.2,-7.0,-7.5,-8.0,-8.6,-10.0,-10.8]),
    (.135, [2.6,1.7,-5.9,-7.2,-7.8,-8.3,-9.0]),
    (.139, [3.2,2.4,.9,-2.2,-7.7,-8.3]),
]

run2b_high = [(.432,4.12),(.420,2.65),(.409,.1),(.419,.27),(.426,-.12),(.426,-.53),(.434,-.53),(.447,-.59),(.413,-.82),(.407,-.9),
(.455,.18),(.462,.35),(.468,.88),(.471,-.08),(.485,.45),(.496,1.61),(.513,1.02),(.495,-.2),(.500,-.39),(.510,-.43),
(.508,-.69),(.499,-1.06),(.470,-1.08),(.475,-1.33),(.479,-1.73),(.522,-1.1),(.531,-.55),(.544,-.18),(.554,-.14),(.565,-.06),
(.573,.08),(.535,3.12),(.543,1.49),(.592,2.96),(.580,.86),(.592,.71),(.582,-.49),(.594,-.98),(.608,-.82),(.615,.02),
(.592,-1.45),(.566,-1.67),(.613,-1.59),(.626,-1.76),(.626,-1.9),(.643,-1.76),(.550,-2.31),(.546,-3.08),(.621,-2.86),(.628,-3.35),
(.583,-3.94),(.661,-3.94),(.631,2.04),(.640,.18),(.637,-.27),(.649,-.49),(.664,-.53),(.679,-.69),(.668,-.06),(.673,-.08),
(.687,-.08),(.698,-.94),(.691,-1.33),(.700,-1.8),(.702,-2.16),(.711,-1.8),(.711,-2.98),(.729,-2.61),(.708,1.16),(.424,-4.47),
(.496,-5.92),(.521,-6.35),(.569,-6.51),(.603,-6.51),(.621,-6.1),(.415,-6.65),(.442,-7.69),(.394,-8.59),(.583,-7.71),(.606,-8.29),
(.649,-7.98),(.653,-7.37),(.715,-7.43),(.720,-8.59),(.734,-6.82),(.733,-5.82),(.742,-8.29),(.756,-8.2),(.730,-9.31),(.704,-9.84),
(.765,-4.88),(.781,-5.96),(.795,-5.88),(.799,-6.04),(.822,-4.61),(.860,-6.43),(.825,-8.08),(.807,-9.12),(.827,-9.37),(.891,-8.35),
(.897,-9.53),(.926,-9.43),(.914,-7.41),(.899,-4.65),(.935,-6.04),(.949,-5.96),(.967,-6.82),(.990,-6.88),(.978,-7.69),(1.0,-7.59),
(.989,-8.45),(.963,-8.67),(.971,-9.76),(.974,-4.27),(1.054,-8.45),(1.062,-9.31),(1.062,-5.41),(1.076,-5.98),(1.074,-4.51),(1.08,-8.37),
(1.08,-2.29),(.790,-2.29),(.791,-2.88),(.790,-3.41),(.833,-3.55),(.833,-3.88),(.798,1.22),(.799,.51),(.855,2.33),(.909,1.39),
(.965,1.18),(.832,.76),(.843,.82),(.847,.86),(.923,.51),(.946,.71),(.961,.82),(.975,.82),(.903,-2.73),(.919,-2.92),
(.937,-2.71),(.938,-3.12),(.926,-3.57),(.964,-3.16),(.969,-3.47),(.960,-2.37),(.992,-2.51),(.996,-2.71),(1.034,-2.82),(1.049,-2.71),
(1.049,-2.96),(1.064,-.33),(1.053,-.2),(1.039,-.67),(1.053,-1.02),(1.055,-1.24)]

run2b_band = [
    (.71, [.5,.1,-.3,-.7,-1.1]), (.72, [.6,.2,-.2,-.6,-1.0,-1.4]), (.73, [.4,.0,-.4,-.9,-1.3]), (.74, [.3,-.1,-.5,-.8,-1.2]),
    (.75, [.2,-.2,-.6,-1.1]), (.76, [.4,.1,-.3,-.7,-1.0]), (.77, [.3,-.1,-.5,-.9,-1.2]), (.78, [.2,-.3,-.6,-1.0]),
    (.79, [.4,-.2,-.4,-.8,-1.1]), (.80, [.1,-.3,-.7,-1.0,-1.3]), (.81, [.3,-.1,-.5,-.9,-1.2]), (.82, [.2,-.4,-.6,-1.0]),
    (.83, [.4,.0,-.3,-.7,-1.1,-1.4]), (.84, [.3,-.2,-.5,-.9,-1.2]), (.85, [.1,-.3,-.7,-1.0,-1.4]), (.86, [.3,-.1,-.4,-.8,-1.1,-1.7]),
    (.87, [.5,.0,-.4,-.6,-1.0,-1.5,-1.7]), (.88, [.4,.1,-.3,-.7,-.9,-1.3,-1.8]), (.89, [.3,-.1,-.5,-.8,-1.2,-1.6,-2.0]), (.90, [.2,-.2,-.4,-.7,-1.1,-1.5,-2.1]),
    (.91, [.1,-.3,-.6,-.9,-1.3,-1.8,-2.3]), (.92, [.3,-.1,-.4,-.8,-1.1,-1.4,-1.9]), (.93, [.4,.0,-.3,-.7,-1.0,-1.3,-1.6,-2.2]), (.94, [.2,-.2,-.5,-.8,-1.2,-1.5,-2.0]),
    (.95, [.4,.1,-.3,-.6,-1.0,-1.4,-1.9]), (.96, [.3,-.1,-.4,-.8,-1.1,-1.5]), (.97, [.5,.2,-.2,-.6,-.9,-1.3,-1.8]), (.98, [.6,.1,-.3,-.7,-1.0,-1.2]),
    (.99, [.7,.3,-.1,-.5,-.8,-1.4,-1.6]), (1.00, [.9,.5,.1,-.3,-.6,-1.0,-1.3,-1.9]),
    (.715, [.35,-.45]), (.735, [.2,-.65,-1.15]), (.755, [.0,-.85]), (.775, [.15,-.7]), (.795, [.25,-.6,-1.35]), (.815, [.05,-.75]),
    (.835, [.25,-.5,-.95]), (.855, [-.1,-.55]), (.875, [.25,-.2,-.8]), (.895, [.0,-.6,-1.0]), (.915, [-.15,-.7,-1.1]), (.935, [.2,-.5,-.85]),
    (.955, [.2,-.15,-.8]), (.975, [.35,-.4,-1.05]), (.995, [.5,-.3,-1.1]),
    (1.008, [1.3,1.1,.9,.7,.5,.3,.1,-.1,-.3,-.5,-.7,-.9,-1.1,-1.3,-1.5,-1.7,-1.9,-2.1,-2.3,-2.5,-2.7,-2.9,-3.1,-3.3,-3.5,-3.7,-3.9,-4.1,-4.3,-4.5,-4.7,-4.9,-5.1,-5.3,-5.5,-5.7,-5.9,-6.1,-6.3,-6.5,-6.7,-6.9,-7.1,-7.3,-7.5,-7.7,-7.9,-8.1,-8.3,-8.5,-8.7,-8.9,-9.1,-9.3,-9.5,-9.7,-9.9]),
    (1.016, [1.5,1.2,1.0,.8,.6,.4,.2,.0,-.2,-.4,-.6,-.8,-1.0,-1.2,-1.4,-1.6,-1.8,-2.0,-2.2,-2.4,-2.6,-2.8,-3.0,-3.2,-3.4,-3.6,-3.8,-4.0,-4.2,-4.4,-4.6,-4.8,-5.0,-5.2,-5.4,-5.6,-5.8,-6.0,-6.2,-6.4,-6.6,-6.8,-7.0,-7.2,-7.4,-7.6,-7.8,-8.0,-8.2,-8.4,-8.6,-8.8,-9.0,-9.2,-9.4,-9.6,-9.8,-10.0,-10.2,-10.35]),
    (1.024, [1.2,1.0,.7,.5,.3,.1,-.1,-.3,-.5,-.7,-.9,-1.1,-1.3,-1.5,-1.7,-1.9,-2.1,-2.3,-2.5,-2.7,-2.9,-3.1,-3.3,-3.5,-3.7,-3.9,-4.1,-4.3,-4.5,-4.7,-4.9,-5.1,-5.3,-5.5,-5.7,-5.9,-6.1,-6.3,-6.5,-6.7,-6.9,-7.1,-7.3,-7.5,-7.7,-7.9,-8.1,-8.3,-8.5,-8.7,-8.9,-9.1,-9.3,-9.5,-9.7,-10.1]),
]

thresholds = [-4, -5]
y_ticks = [5, 0, -5, -10, -15]
y_tick_labels = ["5", "0", "\u22125", "\u221210", "\u221215"]
x_ticks = [0.1, 1, 10]
x_exponents = ["\u22121", "0", "1"]

W, H = 1435, 1345
BLUE = "#0072BD"
RED = "#C00000"
ARROW_RED = "#CC0000"
SHELL_BLUE = "#0563C9"
ARROW_BLUE = "#0066CC"
AXCOL = "#444444"
TICKTXT = "#333333"
NUM_FONT = ["DejaVu Sans"]
THICKEN = [pe.withStroke(linewidth=0.9, foreground=TICKTXT)]


def expand(columns):
    return [(x, r) for x, rs in columns for r in rs]


def draw_points(ax, *groups):
    pts = np.array([p for g in groups for p in g])
    ax.scatter(10 ** pts[:, 0], pts[:, 1], s=9, c="k", linewidths=0, zorder=3)


def style_axis(ax):
    ax.set_xscale("log")
    ax.set_xlim(0.05, 12)
    ax.set_ylim(-17, 7)
    ax.set_xticks(x_ticks)
    ax.set_xticklabels([])
    ax.set_yticks(y_ticks, labels=y_tick_labels)
    ax.grid(True, which="major", color="#e2e2e2", lw=1.6, zorder=0)
    ax.grid(True, which="minor", axis="x", color="#e6e6e6", lw=1.4, zorder=0)
    ax.set_axisbelow(True)
    ax.tick_params(which="both", direction="in", top=True, right=True, length=8, width=1.4, color=AXCOL)
    ax.tick_params(axis="x", which="minor", labelbottom=False)
    ax.tick_params(axis="y", labelsize=32, pad=44, labelcolor=TICKTXT)
    for s in ax.spines.values():
        s.set_color(AXCOL)
        s.set_linewidth(1.8)
    for lab in ax.get_yticklabels():
        lab.set_family(NUM_FONT)
        lab.set_ha("center")
        lab.set_path_effects(THICKEN)


plt.rcParams["font.family"] = ["Lato", "DejaVu Sans"]

fig = plt.figure(figsize=(W / 100, H / 100), dpi=100, facecolor="white")
ax1 = fig.add_axes([321 / W, 1 - 609 / H, 1041 / W, 392 / H])
ax2 = fig.add_axes([321 / W, 1 - 1001 / H, 1041 / W, 392 / H])

draw_points(ax1, run2a_low, run2a_mid, expand(run2a_lshell), run2a_high, expand(run2a_band), expand(run2a_band_fill))
draw_points(ax2, run2b_low, expand(run2b_blob), expand(run2b_blob_fill), run2b_mid, expand(run2b_lshell), run2b_high, expand(run2b_band))

ax1.axhline(thresholds[0], color=BLUE, lw=4.3, dashes=(3.85, 3.85), zorder=4)
line, = ax2.plot([0.05, 12], [thresholds[1]] * 2, color=BLUE, lw=3.4, dashes=(4.9, 4.9), zorder=4, label="Threshold")

style_axis(ax1)
style_axis(ax2)

# decade labels: base and exponent are set apart, as in the figure
for tick, exp, base_dx, exp_dx in zip(x_ticks, x_exponents, [6, 16, 18], [55, 42, 41]):
    ax2.annotate("10", xy=(tick, 0), xycoords=ax2.get_xaxis_transform(), xytext=(base_dx, -74), textcoords="offset pixels",
                 ha="right", va="baseline", fontsize=33, family=NUM_FONT, color=TICKTXT, path_effects=THICKEN, annotation_clip=False)
    ax2.annotate(exp, xy=(tick, 0), xycoords=ax2.get_xaxis_transform(), xytext=(exp_dx, -51), textcoords="offset pixels",
                 ha="right", va="baseline", fontsize=26, family=NUM_FONT, color=TICKTXT, path_effects=THICKEN, annotation_clip=False)

leg = ax2.legend(handles=[line], loc="lower right", bbox_to_anchor=(1338 / W, 1 - 978 / H), bbox_transform=fig.transFigure,
                 borderaxespad=0, fancybox=False, framealpha=1, edgecolor=AXCOL, handlelength=1.42, handletextpad=0.22,
                 borderpad=0.15, prop={"family": "Lato", "weight": "bold", "size": 36})
leg.get_frame().set_linewidth(1.5)
leg.get_texts()[0].set_color("#222222")

fig.text(163 / W, 1 - 612 / H, "Radial Parameter [arb. unit]", rotation=90, ha="center", va="center",
         fontsize=39, fontweight="bold", color=TICKTXT)
fig.text(839 / W, 1 - 1122 / H, "Ionization Energy [keV]", ha="center", va="center",
         fontsize=35, fontweight="bold", color=TICKTXT)

# callouts sit on a pixel overlay above the chart
ov = fig.add_axes([0, 0, 1, 1], zorder=10)
ov.set_xlim(0, W)
ov.set_ylim(H, 0)
ov.axis("off")


def box(x0, y0, x1, y1, color):
    ov.add_patch(Rectangle((x0, y0), x1 - x0, y1 - y0, fc="white", ec=color, lw=1.1, clip_on=True))


def head(tip_x, tip_y, base_y, color):
    ov.add_patch(Polygon([(tip_x - 18.5, base_y), (tip_x + 18.5, base_y), (tip_x, tip_y)], fc=color, ec="none"))


def label(x, y, s, color):
    ov.text(x, y, s, color=color, fontsize=42.3, family=["Liberation Sans"], va="baseline", ha="left")


ov.plot([589, 730, 730], [94, 94, 290], color=ARROW_RED, lw=5.8, solid_joinstyle="miter", solid_capstyle="butt")
head(730, 340, 285, ARROW_RED)
ov.plot([513, 513], [1170, 805], color=ARROW_RED, lw=5.8, solid_capstyle="butt")
head(513, 757, 811, ARROW_RED)
ov.plot([937, 937], [178, 232], color=ARROW_BLUE, lw=5.8, solid_capstyle="butt")
head(937, 282, 226, ARROW_BLUE)
ov.plot([1319, 1319], [178, 232], color=ARROW_BLUE, lw=5.8, solid_capstyle="butt")
head(1319, 282, 226, ARROW_BLUE)

box(12, 12, 589, 186, RED)
label(42, 74, "Reduced", RED)
label(43, 139, "amplification events.", RED)
box(106, 1170, 569, 1360, RED)
label(148, 1241, "Localized bkg.", RED)
label(148, 1306, "near connector.", RED)
box(827, 66, 1068, 178, SHELL_BLUE)
label(865, 144, "L-shell", SHELL_BLUE)
box(1201, 66, 1450, 178, SHELL_BLUE)
label(1231, 144, "K-shell", SHELL_BLUE)

for y_mid, s in [(403, "Run 2a"), (785, "Run 2b")]:
    ov.text(1410, y_mid, s, rotation=-90, color="black", fontsize=38, family=["Liberation Sans"], ha="center", va="center")

fig.savefig("out.png", dpi=100, facecolor="white")
